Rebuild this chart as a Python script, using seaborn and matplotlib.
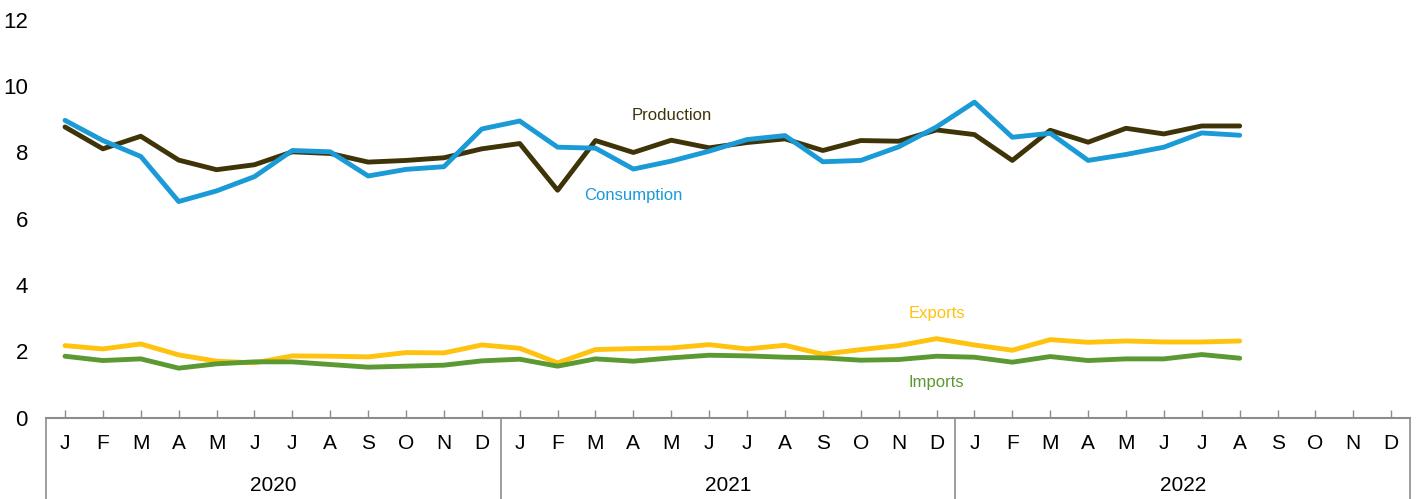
import pandas as pd
import seaborn as sns
import matplotlib.pyplot as plt
from matplotlib import transforms

# monthly values, Jan 2020 - Aug 2022
production = [8.77, 8.11, 8.49, 7.77, 7.48, 7.63, 8.02, 7.97, 7.71, 7.76, 7.84, 8.11,
              8.27, 6.86, 8.36, 8.00, 8.37, 8.14, 8.30, 8.41, 8.06, 8.36, 8.34, 8.68,
              8.54, 7.76, 8.67, 8.31, 8.73, 8.56, 8.80, 8.80]
consumption = [8.97, 8.36, 7.88, 6.52, 6.84, 7.27, 8.06, 8.02, 7.29, 7.49, 7.57, 8.71,
               8.95, 8.16, 8.13, 7.50, 7.74, 8.04, 8.39, 8.51, 7.72, 7.76, 8.17, 8.77,
               9.52, 8.46, 8.58, 7.76, 7.94, 8.16, 8.59, 8.52]
exports = [2.17, 2.07, 2.22, 1.89, 1.70, 1.65, 1.86, 1.85, 1.83, 1.96, 1.95, 2.19,
           2.09, 1.65, 2.05, 2.08, 2.10, 2.20, 2.07, 2.18, 1.91, 2.05, 2.17, 2.38,
           2.19, 2.03, 2.35, 2.27, 2.31, 2.28, 2.28, 2.31]
imports = [1.85, 1.72, 1.77, 1.49, 1.62, 1.68, 1.68, 1.60, 1.52, 1.55, 1.58, 1.71,
           1.76, 1.55, 1.77, 1.70, 1.80, 1.88, 1.86, 1.82, 1.80, 1.73, 1.75, 1.85,
           1.82, 1.67, 1.84, 1.72, 1.77, 1.77, 1.90, 1.79]

month_letters = ['J', 'F', 'M', 'A', 'M', 'J', 'J', 'A', 'S', 'O', 'N', 'D']
years = ['2020', '2021', '2022']

series = {'Production': production, 'Consumption': consumption,
          'Exports': exports, 'Imports': imports}
colors = {'Production': '#3f3308', 'Consumption': '#1a9ad6',
          'Exports': '#ffc20e', 'Imports': '#5b9a32'}

rows = []
for name, vals in series.items():
    for i, v in enumerate(vals):
        rows.append({'month': i, 'value': v, 'series': name})
df = pd.DataFrame(rows)

sns.set_style('white')
plt.rcParams['font.family'] = ['Liberation Sans', 'DejaVu Sans']

fig = plt.figure(figsize=(14.21, 4.99), dpi=100)
ax = fig.add_axes([0.0324, 0.1633, 0.96, 0.7967])

sns.lineplot(data=df, x='month', y='value', hue='series', palette=colors,
             linewidth=3.5, legend=False, ax=ax)

n_months = len(years) * 12
ax.set_xlim(-0.5, n_months - 0.5)
ax.set_ylim(0, 12)
ax.set_yticks(range(0, 13, 2))
ax.set_xticks(range(n_months))
ax.set_xticklabels(month_letters * len(years), fontsize=15)
ax.set_xlabel('')
ax.set_ylabel('')

for s in ['top', 'right', 'left']:
    ax.spines[s].set_visible(False)
ax.spines['bottom'].set_color('#8c8c8c')
ax.spines['bottom'].set_linewidth(1.5)
ax.tick_params(axis='x', direction='in', length=6, width=1, color='#8c8c8c',
               pad=12, bottom=True, labelcolor='black')
ax.tick_params(axis='y', length=0, pad=13, labelsize=16, labelcolor='black')

trans = transforms.blended_transform_factory(ax.transData, ax.transAxes)
for k, yr in enumerate(years):
    ax.axvline(k * 12 - 0.5, ymin=-0.21, ymax=0, color='#8c8c8c', lw=1.2, clip_on=False)
    ax.text(k * 12 + 5.5, -0.17, yr, transform=trans, ha='center', va='center',
            fontsize=15, color='black')
ax.axvline(n_months - 0.5, ymin=-0.21, ymax=0, color='#8c8c8c', lw=1.2, clip_on=False)

# series labels
ax.text(16.0, 9.12, 'Production', color=colors['Production'], fontsize=12, ha='center', va='center')
ax.text(15.0, 6.7, 'Consumption', color=colors['Consumption'], fontsize=12, ha='center', va='center')
ax.text(23.0, 3.15, 'Exports', color=colors['Exports'], fontsize=12, ha='center', va='center')
ax.text(23.0, 1.05, 'Imports', color=colors['Imports'], fontsize=12, ha='center', va='center')

fig.savefig('out.png', dpi=100)
